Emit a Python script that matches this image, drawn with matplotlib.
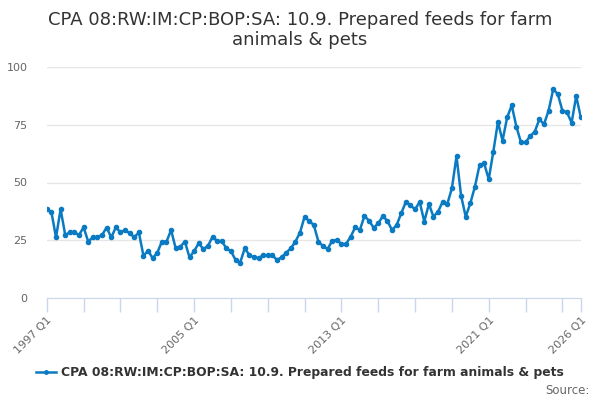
import matplotlib
matplotlib.use("Agg")
import matplotlib.pyplot as plt
from matplotlib.lines import Line2D

# quarterly values, 1997 Q1 .. 2026 Q1
start_year = 1997
values = [
    38.4, 37.2, 26.3, 38.4,   # 1997
    27.3, 28.4, 28.4, 27.3,   # 1998
    30.6, 24.4, 26.3, 26.3,   # 1999
    27.3, 30.5, 26.2, 30.6,   # 2000
    28.4, 29.4, 28.0, 26.3,   # 2001
    28.4, 18.2, 20.5, 17.2,   # 2002
    19.6, 24.4, 24.4, 29.4,   # 2003
    21.5, 22.2, 24.4, 17.6,   # 2004
    20.3, 23.7, 21.2, 22.5,   # 2005
    26.5, 24.7, 24.7, 21.5,   # 2006
    20.3, 16.5, 15.3, 21.5,   # 2007
    18.6, 17.6, 17.3, 18.5,   # 2008
    18.5, 18.5, 16.5, 17.6,   # 2009
    19.6, 21.5, 24.4, 28.3,   # 2010
    35.2, 33.3, 31.6, 24.4,   # 2011
    22.5, 21.2, 24.8, 25.1,   # 2012
    23.4, 23.4, 26.5, 30.6,   # 2013
    29.4, 35.5, 33.5, 30.4,   # 2014
    32.3, 35.5, 33.3, 29.4,   # 2015
    31.6, 36.7, 41.6, 40.1,   # 2016
    38.4, 41.6, 33.1, 40.7,   # 2017
    35.2, 37.4, 41.7, 40.7,   # 2018
    47.5, 61.4, 44.2, 35.2,   # 2019
    41.0, 48.2, 57.5, 58.3,   # 2020
    51.4, 63.4, 76.2, 68.1,   # 2021
    78.2, 83.4, 74.2, 67.4,   # 2022
    67.4, 70.1, 72.0, 77.4,   # 2023
    75.2, 81.1, 90.3, 88.3,   # 2024
    81.1, 80.4, 75.9, 87.4,   # 2025
    78.2,                     # 2026
]
labels = [f"{start_year + i // 4} Q{i % 4 + 1}" for i in range(len(values))]
series_name = "CPA 08:RW:IM:CP:BOP:SA: 10.9. Prepared feeds for farm animals & pets"
title = "CPA 08:RW:IM:CP:BOP:SA: 10.9. Prepared feeds for farm\nanimals & pets"

color = "#0a7bc2"
grid_c = "#e6e6e6"
axis_c = "#ccd6eb"
text_c = "#333333"
label_c = "#666666"

plt.rcParams["font.family"] = ["DejaVu Sans"]

fig = plt.figure(figsize=(6, 4), dpi=100)
ax = fig.add_axes([0.078, 0.255, 0.890, 0.5775])

x = list(range(len(values)))
ax.plot(x, values, color=color, lw=1.8, marker="o", markersize=3, zorder=3)

ax.set_xlim(0, len(values) - 1)
ax.set_ylim(0, 100)
ax.set_yticks([0, 25, 50, 75, 100])
ax.yaxis.grid(True, color=grid_c, lw=1)
ax.tick_params(axis="y", length=0, pad=14, labelsize=8, labelcolor=label_c)

tick_pos = list(range(0, len(values) - 4, 8)) + [len(values) - 1]
label_pos = [0, 32, 64, 96, len(values) - 1]
ax.set_xticks(tick_pos)
ax.set_xticklabels([labels[p] if p in label_pos else "" for p in tick_pos],
                   rotation=45, ha="right", rotation_mode="anchor")
ax.tick_params(axis="x", length=10, width=1, color=axis_c, labelsize=8,
               labelcolor=label_c, pad=2)

for s in ["top", "right", "left"]:
    ax.spines[s].set_visible(False)
ax.spines["bottom"].set_color(axis_c)
ax.set_axisbelow(True)

fig.text(0.5, 0.925, title, ha="center", va="center", fontsize=13,
         color=text_c, linespacing=1.2)

handle = Line2D([], [], color=color, lw=1.8, marker="o", markersize=2.5)
fig.legend([handle], [series_name], loc="center", bbox_to_anchor=(0.5, 0.068),
           frameon=False, handlelength=1.6, handletextpad=0.4,
           prop={"size": 8.9, "weight": "bold"}, labelcolor=text_c)

fig.text(0.982, 0.024, "Source:", ha="right", va="center", fontsize=8.5,
         color=label_c)

fig.savefig("out.png", dpi=100)
